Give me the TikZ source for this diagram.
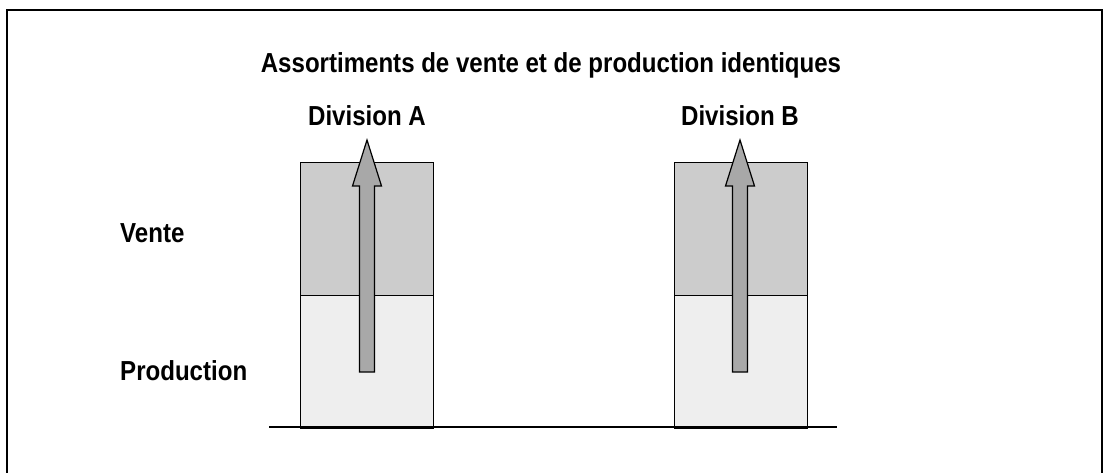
\documentclass[tikz,border=0pt]{standalone}
\usepackage{fontspec}
\newfontfamily\lblfont{Liberation Sans Bold}[FakeStretch=0.875]
\definecolor{topgray}{HTML}{CCCCCC}
\definecolor{botgray}{HTML}{EEEEEE}
\definecolor{arrowgray}{HTML}{A8A8A8}
\begin{document}
\begin{tikzpicture}[x=1pt,y=-1pt,
  lbl/.style={font=\fontsize{27.5}{32}\lblfont, inner sep=0pt, anchor=base},
  blk/.style={draw=black, line width=1.4pt, rectangle, inner sep=0pt, minimum width=133pt, minimum height=133pt, anchor=north west},
  uparrow/.style={draw=black, line width=1.2pt, fill=arrowgray, line join=miter},
  frame/.style={draw=black, line width=1.6pt},
  ground/.style={draw=black, line width=1.4pt}]
\useasboundingbox (0,0) rectangle (1103,473);
% frame (bottom edge lies below the picture)
\draw[frame] (7,490) -- (7,10) -- (1102,10) -- (1102,490);
% texts
\node[lbl] (title) at (551,73) {Assortiments de vente et de production identiques};
\node[lbl] (divA) at (367,125.5) {Division A};
\node[lbl] (divB) at (740,125.5) {Division B};
\node[lbl, anchor=base west] (vente) at (120,243) {Vente};
\node[lbl, anchor=base west] (prod) at (120,380) {Production};
% blocks
\node[blk, fill=topgray] (Avente) at (300,162) {};
\node[blk, fill=botgray] (Aprod) at (300,295) {};
\node[blk, fill=topgray] (Bvente) at (674,162) {};
\node[blk, fill=botgray] (Bprod) at (674,295) {};
% ground line
\coordinate (g1) at (269,427);
\coordinate (g2) at (837,427);
\draw[ground] (g1) -- (g2);
% arrows
\draw[uparrow] (359.5,372) -- (359.5,186) -- (352.5,186) -- (367,140) -- (381.5,186) -- (374.5,186) -- (374.5,372) -- cycle;
\draw[uparrow] (732.5,372) -- (732.5,186) -- (725.5,186) -- (740,140) -- (754.5,186) -- (747.5,186) -- (747.5,372) -- cycle;
\end{tikzpicture}
\end{document}
